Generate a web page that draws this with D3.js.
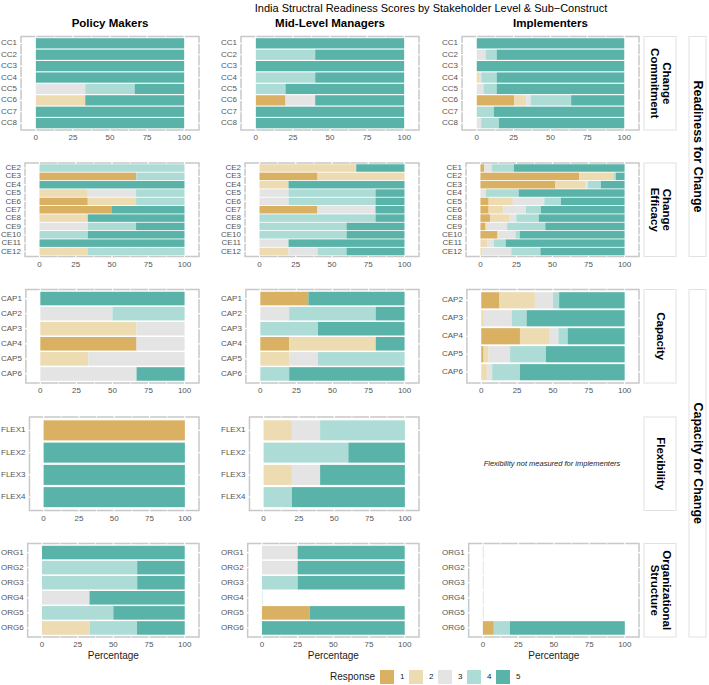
<!DOCTYPE html>
<html><head><meta charset="utf-8">
<script src="https://cdn.jsdelivr.net/npm/d3@7"></script>
<style>
body{margin:0;background:#fff;}
text{font-family:"Liberation Sans",Arial,Helvetica,sans-serif;}
</style>
</head><body>
<svg id="chart" width="709" height="685"></svg>
<script>
// ---------------- DATA ----------------
const responses = ["1","2","3","4","5"];
const responseColors = ["#DAB063","#EDDBB1","#E4E4E4","#ACDCD5","#5AB3A8"];
const stakeholders = ["Policy Makers","Mid-Level Managers","Implementers"];
const constructs = ["Change\nCommitment","Change\nEfficacy","Capacity","Flexibility","Organizational\nStructure"];
const domains = ["Readiness for Change","Capacity for Change"];
const xTicks = [0,25,50,75,100];
const title = "India Structral Readiness Scores by Stakeholder Level & Sub\u2212Construct";
const xTitle = "Percentage";
const legendTitle = "Response";
const flexNote = "Flexibility not measured for implementers";

// each row: % of responses 1..5
const ccItems = ["CC1","CC2","CC3","CC4","CC5","CC6","CC7","CC8"];
const pmCC = [[0,0,0,0,100],[0,0,0,0,100],[0,0,0,0,100],[0,0,0,0,100],[0,0,33.3,33.3,33.4],[0,33.3,0,0,66.7],[0,0,0,0,100],[0,0,0,0,100]];
const mlmCC = [[0,0,0,0,100],[0,0,0,40,60],[0,0,0,0,100],[0,0,0,40,60],[0,0,0,20,80],[20,0,20,0,60],[0,0,0,0,100],[0,0,0,0,100]];
const impCC = [[0,0,0,0,100],[0,0,6,7.5,86.5],[0,0,0,0,100],[0,1.5,1.5,10.5,86.5],[0,0,4.5,9,86.5],[25.5,8,3,27.5,36],[0,0,0,11.5,88.5],[0,0,3,12,85]];

const pmCEItems = ["CE2","CE3","CE4","CE5","CE6","CE7","CE8","CE9","CE10","CE11","CE12"];
const pmCE = [[0,0,0,100,0],[66.7,0,0,33.3,0],[0,0,0,0,100],[0,33.3,33.3,33.4,0],[33.3,33.3,0,33.4,0],[50,0,0,0,50],[0,33.3,0,0,66.7],[0,0,33.3,33.3,33.4],[0,0,0,33.3,66.7],[0,0,0,0,100],[0,33.3,0,66.7,0]];
const mlmCEItems = ["CE2","CE3","CE4","CE5","CE6","CE7","CE8","CE9","CE10","CE11","CE12"];
const mlmCE = [[0,66.7,0,0,33.3],[40,60,0,0,0],[0,20,0,0,80],[0,0,20,60,20],[0,0,20,60,20],[40,0,40,0,20],[0,0,0,80,20],[0,0,0,60,40],[0,0,0,60,40],[0,0,20,0,80],[0,20,20,20,40]];
const impCEItems = ["CE1","CE2","CE3","CE4","CE5","CE6","CE8","CE9","CE10","CE11","CE12"];
const impCE = [[2.5,0,5.5,15.2,76.8],[68.5,24,0,1.5,6],[52,21,1.5,9,16.5],[0,0,3.7,22.8,73.5],[5.7,16.8,21.8,11.5,44.2],[5.7,10.3,15.6,10.3,58.1],[6.7,13.6,4.6,15.6,59.5],[3.5,1,14,26.5,55],[11.5,1.1,11.7,3,72.7],[0,4.6,4.6,8.3,82.5],[0,1.4,20,20.2,58.4]];

const capItems = ["CAP1","CAP2","CAP3","CAP4","CAP5","CAP6"];
const pmCAP = [[0,0,0,0,100],[0,0,50,50,0],[0,66.7,33.3,0,0],[66.7,0,33.3,0,0],[0,33.3,66.7,0,0],[0,0,66.7,0,33.3]];
const mlmCAP = [[33.3,0,0,0,66.7],[0,0,20,60,20],[0,0,0,40,60],[20,60,0,0,20],[0,20,20,60,0],[0,0,0,20,80]];
const impCAPItems = ["CAP2","CAP3","CAP4","CAP5","CAP6"];
const impCAP = [[12.7,24.7,12.7,4.2,45.7],[0,1.8,19.4,10.4,68.4],[27,20.8,6,6.5,39.7],[1.6,3.5,15,25,54.9],[0,3.9,3.7,19.4,73]];

const flexItems = ["FLEX1","FLEX2","FLEX3","FLEX4"];
const pmFLEX = [[100,0,0,0,0],[0,0,0,0,100],[0,0,0,0,100],[0,0,0,0,100]];
const mlmFLEX = [[0,20,20,60,0],[0,0,0,60,40],[0,20,20,0,60],[0,0,0,20,80]];

const orgItems = ["ORG1","ORG2","ORG3","ORG4","ORG5","ORG6"];
const pmORG = [[0,0,0,0,100],[0,0,0,66.7,33.3],[0,0,0,66.7,33.3],[0,0,33.3,0,66.7],[0,0,0,50,50],[0,33.3,0,33.3,33.4]];
const mlmORG = [[0,0,25,0,75],[0,0,25,0,75],[0,0,0,25,75],[0,0,0,0.3,0],[33.3,0,0,0,66.7],[0,0,0,0,100]];
const impORG = [[0,0,0,0.4,0],[0,0,0,0.4,0],[0,0,0,0.4,0],[0,0,0,0.4,0],[0,0,0,0.4,0],[7.7,0,0,11.4,80.9]];

// ---------------- LAYOUT ----------------
const panels = [
  [[ccItems,pmCC],[ccItems,mlmCC],[ccItems,impCC]],
  [[pmCEItems,pmCE],[mlmCEItems,mlmCE],[impCEItems,impCE]],
  [[capItems,pmCAP],[capItems,mlmCAP],[impCAPItems,impCAP]],
  [[flexItems,pmFLEX],[flexItems,mlmFLEX],null],
  [[orgItems,pmORG],[orgItems,mlmORG],[orgItems,impORG]]
];
const colStarts = [0,220,441];
const colRights = [199,419,639];
const rowTops = [36.5,163,289.5,417,543.5];
const panelH = 93.5;
const domainRows = [[0,1],[2,4]];

const svg = d3.select("#chart");

function measure(texts, size){
  const t = svg.append("text").style("font-size", size+"px");
  let m = 0;
  texts.forEach(s => { t.text(s); m = Math.max(m, t.node().getComputedTextLength()); });
  t.remove();
  return m;
}

const colCenters = [];

panels.forEach((row, ri) => {
  row.forEach((p, ci) => {
    const top = rowTops[ri], bottom = top + panelH, right = colRights[ci];
    if (!p) {
      svg.append("text").attr("x", 552).attr("y", top + panelH/2)
        .attr("text-anchor","middle").attr("dominant-baseline","middle")
        .style("font-size","7.5px").style("font-style","italic").attr("fill","#222")
        .text(flexNote);
      return;
    }
    const [items, vals] = p;
    const lw = measure(items, 8);
    const left = colStarts[ci] + lw + 5;
    const x = d3.scaleLinear().domain([-10,110]).range([left, right]);
    const y = d3.scalePoint().domain(items).range([top, bottom]).padding(0.6);
    const bw = y.step()*0.9;
    if (ri === 0) colCenters[ci] = (left+right)/2;
    const g = svg.append("g");
    g.append("rect").attr("x",left).attr("y",top).attr("width",right-left).attr("height",panelH)
      .attr("fill","#fff").attr("stroke","#c8c8c8").attr("stroke-width",1.5);
    d3.range(0,100.1,12.5).forEach(v => {
      g.append("line").attr("x1",x(v)).attr("x2",x(v)).attr("y1",top-1).attr("y2",bottom+1)
        .attr("stroke","#fff").attr("stroke-width", v%25===0 ? 1.2 : 0.7);
    });
    items.forEach(it => {
      g.append("line").attr("x1",left-1).attr("x2",right+1).attr("y1",y(it)).attr("y2",y(it))
        .attr("stroke","#fff").attr("stroke-width",1.2);
    });
    const rows = items.map((it,i) => { const o = {item: it}; responses.forEach((r,k)=> o[r] = vals[i][k]); return o; });
    const stack = d3.stack().keys(responses)(rows);
    stack.forEach((layer, k) => {
      g.selectAll(null).data(layer).enter().append("rect")
        .attr("x", d => x(d[0])).attr("width", d => Math.max(0, x(d[1]) - x(d[0])))
        .attr("y", d => y(d.data.item) - bw/2).attr("height", bw)
        .attr("fill", responseColors[k]);
    });
    g.selectAll(null).data(items).enter().append("text")
      .attr("x", left - 4).attr("y", d => y(d)).attr("text-anchor","end")
      .attr("dominant-baseline","middle").style("font-size","8px").attr("fill","#555").text(d => d);
    g.selectAll(null).data(xTicks).enter().append("text")
      .attr("x", d => x(d)).attr("y", bottom + 8).attr("text-anchor","middle")
      .attr("dominant-baseline","middle").style("font-size","8px").attr("fill","#555").text(d => d);
    if (ri === 4) {
      g.append("text").attr("x", x(50)).attr("y", bottom + 19).attr("text-anchor","middle")
        .attr("dominant-baseline","middle").style("font-size","10px").attr("fill","#1a1a1a").text(xTitle);
    }
  });
});

stakeholders.forEach((s,i) => {
  svg.append("text").attr("x", colCenters[i]).attr("y", 24).attr("text-anchor","middle")
    .attr("dominant-baseline","middle").style("font-size","11.5px").style("font-weight","bold").text(s);
});
svg.append("text").attr("x", 431).attr("y", 9).attr("text-anchor","middle")
  .attr("dominant-baseline","middle").style("font-size","11px").text(title);

constructs.forEach((c, ri) => {
  const top = rowTops[ri];
  svg.append("rect").attr("x",644).attr("y",top).attr("width",32).attr("height",panelH)
    .attr("fill","#fff").attr("stroke","#e2e2e2").attr("stroke-width",1);
  const lines = c.split("\n");
  const cx = 660, cy = top + panelH/2;
  const t = svg.append("text").attr("transform",`translate(${cx},${cy}) rotate(90)`)
    .attr("text-anchor","middle").style("font-size","11.5px").style("font-weight","bold");
  const lh = 12;
  lines.forEach((l, i) => {
    t.append("tspan").attr("x",0).attr("y", (i - (lines.length-1)/2)*lh).attr("dominant-baseline","middle").text(l);
  });
});
domains.forEach((d, i) => {
  const top = rowTops[domainRows[i][0]], bottom = rowTops[domainRows[i][1]] + panelH;
  svg.append("rect").attr("x",689).attr("y",top).attr("width",17).attr("height",bottom-top)
    .attr("fill","#fff").attr("stroke","#e2e2e2").attr("stroke-width",1);
  svg.append("text").attr("transform",`translate(${697.5},${(top+bottom)/2}) rotate(90)`)
    .attr("text-anchor","middle").attr("dominant-baseline","middle")
    .style("font-size","12.5px").style("font-weight","bold").text(d);
});

const lg = svg.append("g");
lg.append("text").attr("x",330).attr("y",677).attr("dominant-baseline","middle").style("font-size","10px").attr("fill","#1a1a1a").text(legendTitle);
responses.forEach((r,i) => {
  const bx = 380 + i*29;
  lg.append("rect").attr("x",bx).attr("y",670).attr("width",14).attr("height",14).attr("fill",responseColors[i]);
  lg.append("text").attr("x",bx+20).attr("y",677).attr("dominant-baseline","middle").style("font-size","8px").attr("fill","#1a1a1a").text(r);
});
</script>
</body></html>
